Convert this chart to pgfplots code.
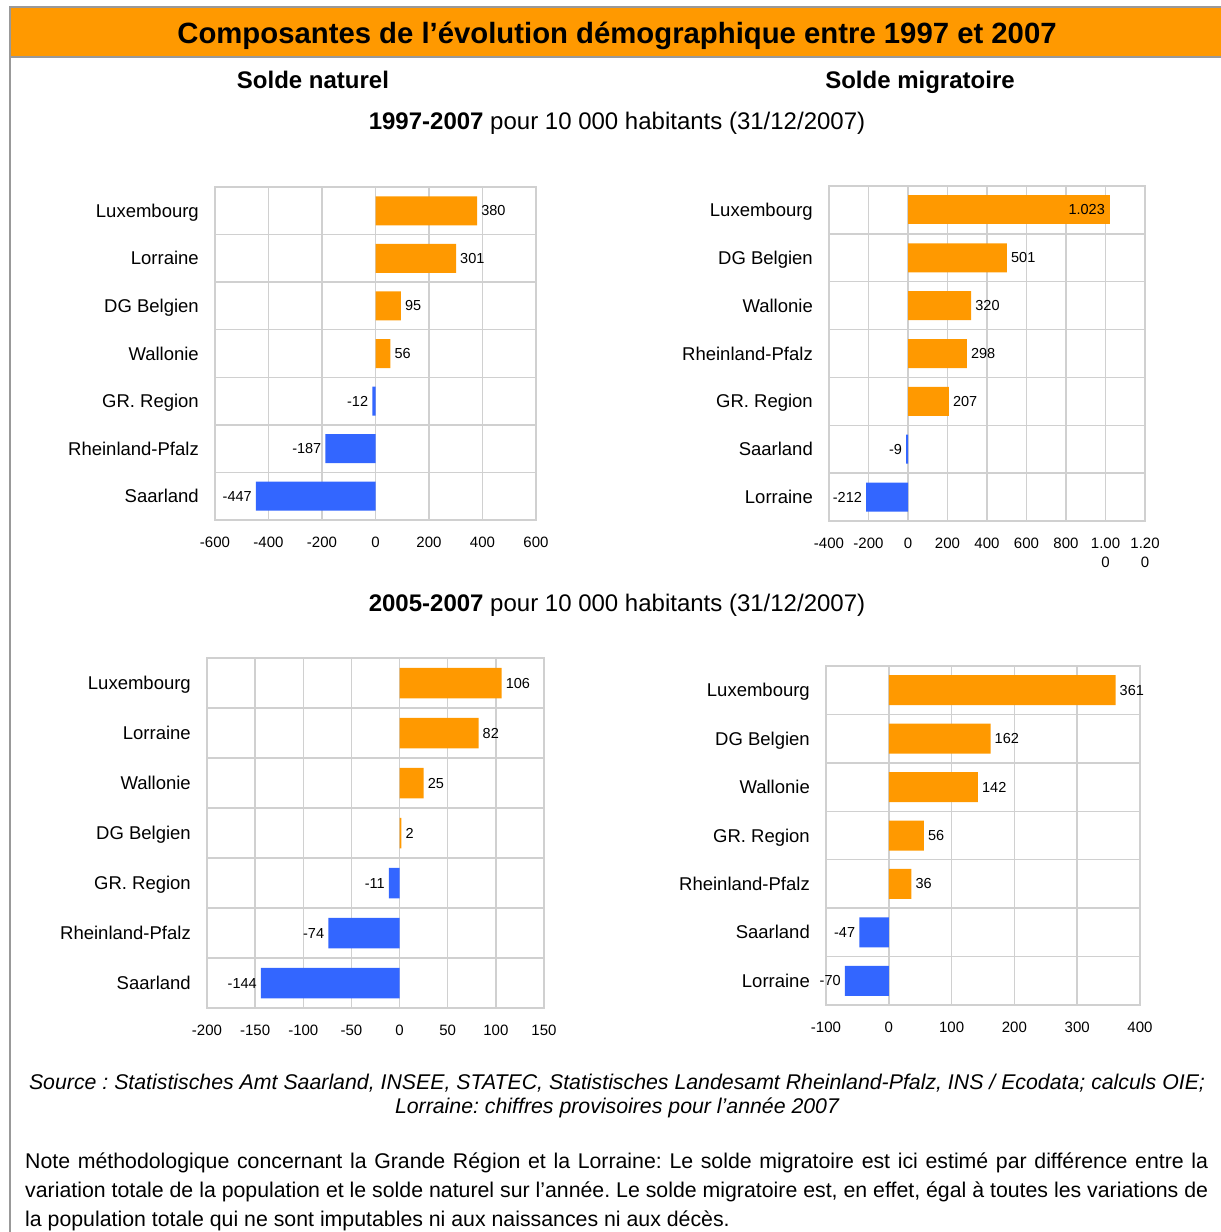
\documentclass[border=0pt]{standalone}
\usepackage{pgfplots}
\pgfplotsset{compat=1.18}
\usepackage{fontspec}
\setmainfont{Liberation Sans}
\frenchspacing

\definecolor{orng}{RGB}{255,153,0}
\definecolor{blu}{RGB}{51,102,255}
\definecolor{gridc}{RGB}{208,208,208}
\definecolor{framec}{RGB}{153,153,153}

\pgfplotsset{
  chart/.style={
    scale only axis,
    axis line style={gridc, line width=1.5pt},
    xmajorgrids, yminorgrids,
    grid style={gridc, line width=1.5pt},
    minor grid style={gridc, line width=1.5pt},
    major tick length=0pt, minor tick length=0pt,
    ytick={0,...,6}, minor ytick={0.5,1.5,...,5.5},
    ymin=-0.5, ymax=6.5, y dir=reverse,
    yticklabel style={font=\fontsize{18.5}{22}\selectfont, inner sep=0pt,
      anchor=east, xshift=-16pt, text height=13.2pt, text depth=0pt},
    xticklabel style={font=\fontsize{15}{19}\selectfont, inner sep=0pt,
      anchor=north, yshift=-16.6pt, text height=10.7pt, text depth=0pt},
    point meta=explicit symbolic,
    clip=false,
  },
  pos/.style={xbar, bar shift=0pt, fill=orng, draw=none, nodes near coords,
    every node near coord/.append style={font=\fontsize{14.5}{17}\selectfont,
      inner sep=0pt, black, anchor=west, xshift=4pt}},
  neg/.style={xbar, bar shift=0pt, fill=blu, draw=none, nodes near coords,
    every node near coord/.append style={font=\fontsize{14.5}{17}\selectfont,
      inner sep=0pt, black, anchor=east, xshift=-4pt}},
}

\begin{document}
\begin{tikzpicture}[x=1pt,y=-1pt]
\useasboundingbox (0,0) rectangle (1221,1232);
% frame and title bar
\fill[framec] (9,6) rectangle (1221,8);
\fill[orng] (11,8) rectangle (1221,56);
\fill[framec] (11,56) rectangle (1221,58);
\fill[framec] (9,6) rectangle (11,1232);
\node[anchor=base, font=\fontsize{29.3}{34}\selectfont\bfseries] at (617,43.5)
  {Composantes de l’évolution démographique entre 1997 et 2007};
\node[anchor=base, font=\fontsize{24}{28}\selectfont\bfseries] at (313,88.6) {Solde naturel};
\node[anchor=base, font=\fontsize{24}{28}\selectfont\bfseries] at (920,88.6) {Solde migratoire};
\node[anchor=base, font=\fontsize{24}{28}\selectfont] at (617,129.5)
  {\textbf{1997-2007} pour 10 000 habitants (31/12/2007)};
\node[anchor=base, font=\fontsize{24}{28}\selectfont] at (617,611)
  {\textbf{2005-2007} pour 10 000 habitants (31/12/2007)};

% 1997-2007, solde naturel
\begin{axis}[chart, at={(215pt,-520pt)}, anchor=south west, width=321pt, height=333pt,
  xmin=-600, xmax=600, xtick={-600,-400,...,600},
  xticklabels={-600,-400,-200,0,200,400,600},
  yticklabels={Luxembourg,Lorraine,DG Belgien,Wallonie,GR. Region,Rheinland-Pfalz,Saarland},
  bar width=29pt]
\addplot[pos] coordinates {(380,0) [380] (301,1) [301] (95,2) [95] (56,3) [56]};
\addplot[neg] coordinates {(-12,4) [-12] (-187,5) [-187] (-447,6) [-447]};
\end{axis}

% 1997-2007, solde migratoire
\begin{axis}[chart, at={(829pt,-521pt)}, anchor=south west, width=316pt, height=335pt,
  xmin=-400, xmax=1200, xtick={-400,-200,...,1200},
  xticklabels={-400,-200,0,200,400,600,800,
    {\begin{tabular}[t]{@{}c@{}}1.00\\0\end{tabular}},
    {\begin{tabular}[t]{@{}c@{}}1.20\\0\end{tabular}}},
  yticklabels={Luxembourg,DG Belgien,Wallonie,Rheinland-Pfalz,GR. Region,Saarland,Lorraine},
  bar width=29pt]
\addplot[pos, every node near coord/.append style={anchor=east, xshift=-9pt}]
  coordinates {(1023,0) [1.023]};
\addplot[pos] coordinates {(501,1) [501] (320,2) [320] (298,3) [298] (207,4) [207]};
\addplot[neg] coordinates {(-9,5) [-9] (-212,6) [-212]};
\end{axis}

% 2005-2007, solde naturel
\begin{axis}[chart, at={(207pt,-1008pt)}, anchor=south west, width=337pt, height=350pt,
  xmin=-200, xmax=150, xtick={-200,-150,...,150},
  xticklabels={-200,-150,-100,-50,0,50,100,150},
  yticklabels={Luxembourg,Lorraine,Wallonie,DG Belgien,GR. Region,Rheinland-Pfalz,Saarland},
  bar width=30.5pt]
\addplot[pos] coordinates {(106,0) [106] (82,1) [82] (25,2) [25] (2,3) [2]};
\addplot[neg] coordinates {(-11,4) [-11] (-74,5) [-74] (-144,6) [-144]};
\end{axis}

% 2005-2007, solde migratoire
\begin{axis}[chart, at={(826pt,-1005pt)}, anchor=south west, width=314pt, height=339pt,
  xmin=-100, xmax=400, xtick={-100,0,...,400},
  xticklabels={-100,0,100,200,300,400},
  yticklabels={Luxembourg,DG Belgien,Wallonie,GR. Region,Rheinland-Pfalz,Saarland,Lorraine},
  bar width=30pt]
\addplot[pos] coordinates {(361,0) [361] (162,1) [162] (142,2) [142] (56,3) [56] (36,4) [36]};
\addplot[neg] coordinates {(-47,5) [-47] (-70,6) [-70]};
\end{axis}

% source and note
\node[anchor=base, font=\fontsize{21.3}{25}\selectfont\itshape] at (617,1089)
  {Source : Statistisches Amt Saarland, INSEE, STATEC, Statistisches Landesamt Rheinland-Pfalz, INS / Ecodata; calculs OIE;};
\node[anchor=base, font=\fontsize{21.3}{25}\selectfont\itshape] at (617,1113)
  {Lorraine: chiffres provisoires pour l’année 2007};
\node[anchor=base west, inner sep=0pt, font=\fontsize{21.3}{25}\selectfont] at (25,1168)
  {\makebox[1183pt][s]{Note méthodologique concernant la Grande Région et la Lorraine: Le solde migratoire est ici estimé par différence entre la}};
\node[anchor=base west, inner sep=0pt, font=\fontsize{21.3}{25}\selectfont] at (25,1197)
  {\makebox[1183pt][s]{variation totale de la population et le solde naturel sur l’année. Le solde migratoire est, en effet, égal à toutes les variations de}};
\node[anchor=base west, inner sep=0pt, font=\fontsize{21.3}{25}\selectfont] at (25,1226)
  {la population totale qui ne sont imputables ni aux naissances ni aux décès.};
\end{tikzpicture}
\end{document}
